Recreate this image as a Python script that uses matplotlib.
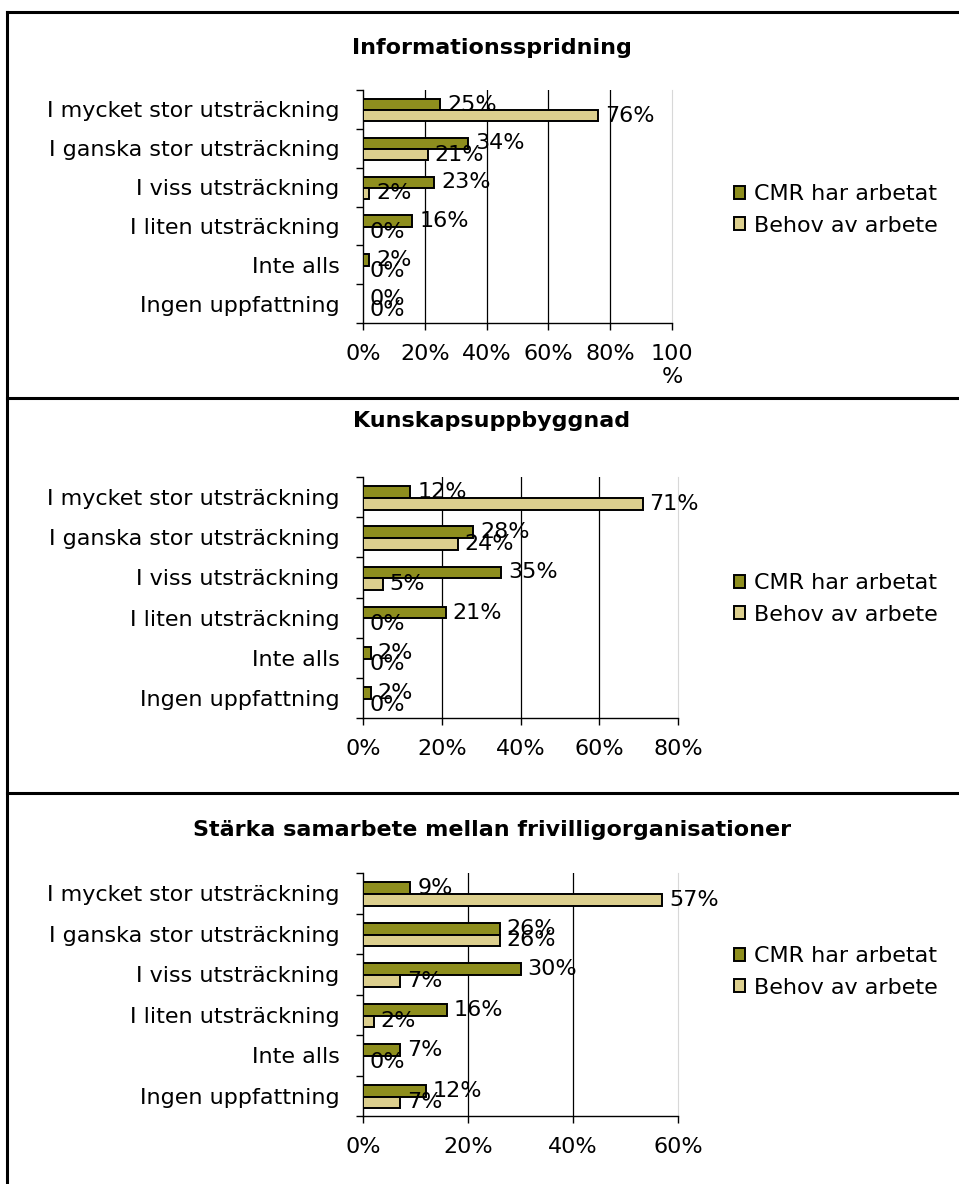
import matplotlib.pyplot as plt
from matplotlib.lines import Line2D
from matplotlib.patches import Patch
import numpy as np

plt.rcParams['font.family'] = 'DejaVu Sans'
plt.rcParams['font.size'] = 16

categories = ["I mycket stor utsträckning", "I ganska stor utsträckning",
              "I viss utsträckning", "I liten utsträckning",
              "Inte alls", "Ingen uppfattning"]
series_names = ["CMR har arbetat", "Behov av arbete"]

titles = ["Informationsspridning", "Kunskapsuppbyggnad",
          "Stärka samarbete mellan frivilligorganisationer"]

info_cmr = [25, 34, 23, 16, 2, 0]
info_behov = [76, 21, 2, 0, 0, 0]
kunskap_cmr = [12, 28, 35, 21, 2, 2]
kunskap_behov = [71, 24, 5, 0, 0, 0]
samarbete_cmr = [9, 26, 30, 16, 7, 12]
samarbete_behov = [57, 26, 7, 2, 0, 7]

xmax = [100, 80, 60]
xticklabels = [["0%", "20%", "40%", "60%", "80%", "100\n%"],
               ["0%", "20%", "40%", "60%", "80%"],
               ["0%", "20%", "40%", "60%"]]

W, H = 959, 1184
fig = plt.figure(figsize=(W / 100, H / 100), dpi=100)

# axes boxes in pixels: left, right, top, bottom
boxes = [(363, 672, 90, 323), (363, 678, 477, 718), (363, 678, 873, 1116)]
title_y = [48, 421, 830]
legend_y = [210, 599, 972]

col_cmr = '#8e8e1e'
col_behov = '#dccf8e'

data = [(info_cmr, info_behov), (kunskap_cmr, kunskap_behov),
        (samarbete_cmr, samarbete_behov)]

y = np.arange(len(categories))
bh = 0.29

for k in range(3):
    l, r, t, b = boxes[k]
    ax = fig.add_axes([l / W, 1 - b / H, (r - l) / W, (b - t) / H])
    cmr, behov = data[k]
    b1 = ax.barh(y - bh / 2 + 0.02, cmr, height=bh, color=col_cmr,
                 edgecolor='black', linewidth=1.4, label=series_names[0], zorder=3)
    b2 = ax.barh(y + bh / 2 + 0.02, behov, height=bh, color=col_behov,
                 edgecolor='black', linewidth=1.4, label=series_names[1], zorder=3)
    for bars in (b1, b2):
        ax.bar_label(bars, labels=['%d%%' % v for v in bars.datavalues],
                     padding=5, fontsize=16, zorder=4)

    ax.set_xlim(0, xmax[k])
    ax.set_ylim(len(categories) - 0.5, -0.5)
    ticks = np.arange(0, xmax[k] + 1, 20)
    ax.set_xticks(ticks)
    ax.set_xticklabels(xticklabels[k])
    ax.tick_params(axis='x', length=5, width=1, pad=10, labelsize=16)

    ax.set_yticks(np.arange(-0.5, len(categories)), labels=[''] * (len(categories) + 1))
    ax.set_yticks(y, labels=categories, minor=True)
    ax.tick_params(axis='y', which='major', length=5, width=1)
    ax.tick_params(axis='y', which='minor', length=0, pad=17, labelsize=16)

    for tv in ticks[1:-1]:
        ax.axvline(tv, color='black', lw=0.9, zorder=1)

    ax.spines['top'].set_visible(False)
    ax.spines['right'].set_color('#d8d8d8')
    ax.spines['left'].set_linewidth(1)
    ax.spines['bottom'].set_linewidth(1)

    fig.text(492 / W, 1 - title_y[k] / H, titles[k], ha='center', va='center',
             fontsize=16, fontweight='bold')

    handles = [Patch(facecolor=col_cmr, edgecolor='black', linewidth=1.4),
               Patch(facecolor=col_behov, edgecolor='black', linewidth=1.4)]
    ax.legend(handles, series_names, loc='center left',
              bbox_to_anchor=(734 / W, 1 - legend_y[k] / H),
              bbox_transform=fig.transFigure, frameon=False,
              handlelength=0.5, handleheight=0.5, handletextpad=0.4,
              labelspacing=0.5, borderpad=0, borderaxespad=0, fontsize=16)

# panel frame
lw = 2.2
fig.add_artist(Line2D([7 / W, 7 / W], [0, 1 - 12 / H], color='black', lw=lw))
for yy in (12, 398, 793):
    fig.add_artist(Line2D([7 / W, 1], [1 - yy / H, 1 - yy / H], color='black', lw=lw))

fig.savefig('out.png', dpi=100)
